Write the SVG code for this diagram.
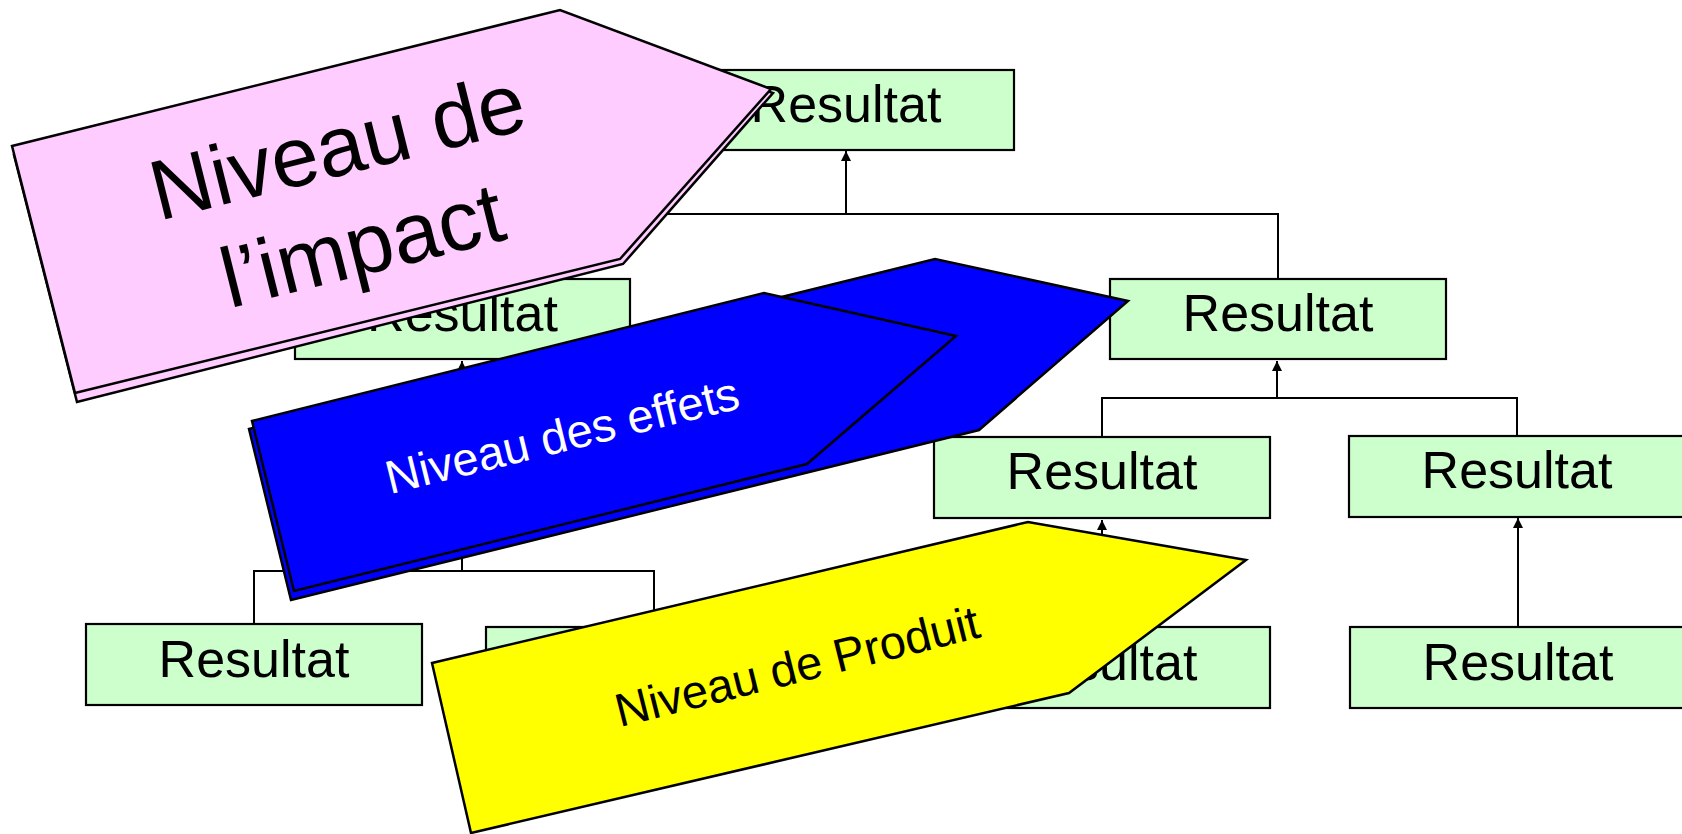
<svg xmlns="http://www.w3.org/2000/svg" width="1682" height="834" viewBox="0 0 1682 834">
<style>
.box{fill:#CCFFCC;stroke:#000;stroke-width:2.2}
.lbl{font-family:"Liberation Sans",Arial,Helvetica,sans-serif;font-size:52px;fill:#000;text-anchor:middle}
.con{fill:none;stroke:#000;stroke-width:2}
.shape{stroke:#000;stroke-width:2.5;stroke-linejoin:miter}
.big{font-family:"Liberation Sans",Arial,Helvetica,sans-serif;text-anchor:middle}
</style>
<defs>
<marker id="ah" markerUnits="userSpaceOnUse" markerWidth="12" markerHeight="12" refX="10" refY="5" orient="auto">
<path d="M0,0 L10,5 L0,10 z" fill="#000"/>
</marker>
</defs>
<rect width="1682" height="834" fill="#fff"/>
<g id="connectors">
<path class="con" d="M462,279 V214 H1278 V279"/>
<path class="con" d="M846,214 V151" marker-end="url(#ah)"/>
<path class="con" d="M254,624 V571 H654 V627"/>
<path class="con" d="M462,571 V361" marker-end="url(#ah)"/>
<path class="con" d="M1102,437 V398 H1517 V436"/>
<path class="con" d="M1277,398 V361" marker-end="url(#ah)"/>
<path class="con" d="M1102,627 V520" marker-end="url(#ah)"/>
<path class="con" d="M1518,627 V518" marker-end="url(#ah)"/>
</g>
<g id="n1"><rect class="box" x="678" y="70" width="336" height="80"/><text class="lbl" x="846" y="122">Resultat</text></g>
<g id="n2"><rect class="box" x="295" y="279" width="335" height="80"/><text class="lbl" x="462.5" y="331">Resultat</text></g>
<g id="n3"><rect class="box" x="1110" y="279" width="336" height="80"/><text class="lbl" x="1278" y="331">Resultat</text></g>
<g id="n4"><rect class="box" x="934" y="437" width="336" height="81"/><text class="lbl" x="1102" y="489">Resultat</text></g>
<g id="n5"><rect class="box" x="1349" y="436" width="336" height="81"/><text class="lbl" x="1517" y="488">Resultat</text></g>
<g id="n6"><rect class="box" x="86" y="624" width="336" height="81"/><text class="lbl" x="254" y="677">Resultat</text></g>
<g id="n7"><rect class="box" x="486" y="627" width="336" height="81"/><text class="lbl" x="654" y="680">Resultat</text></g>
<g id="n8"><rect class="box" x="934" y="627" width="336" height="81"/><text class="lbl" x="1102" y="680">Resultat</text></g>
<g id="n9"><rect class="box" x="1350" y="627" width="336" height="81"/><text class="lbl" x="1518" y="680">Resultat</text></g>
<g id="impact">
<polygon class="shape" fill="#FFCCFF" points="14,155 562,18 773,93 623,264 77,402"/>
<polygon class="shape" fill="#FFCCFF" points="12,146 560,10 771,89 620,259 75,393"/>
<g transform="translate(344.5,174.6) rotate(-14)">
<text class="big" font-size="85" x="0" y="0" fill="#000">Niveau de</text>
<text class="big" font-size="85" x="0" y="102" fill="#000">l’impact</text>
</g>
</g>
<g id="effets">
<polygon class="shape" fill="#0000FF" points="249,429 935,259 1128,301 979,430 291,600"/>
<polygon class="shape" fill="#0000FF" stroke-width="3" points="252,421 764,293 956,336 807,464 294,591"/>
<text class="big" font-size="47" fill="#fff" transform="translate(566,451) rotate(-13.8)">Niveau des effets</text>
</g>
<g id="produit">
<polygon class="shape" fill="#FFFF00" points="432,663 1028,522 1246,560 1069,693 471,833"/>
<text class="big" font-size="47" fill="#000" transform="translate(801,682) rotate(-14)">Niveau de Produit</text>
</g>
</svg>
